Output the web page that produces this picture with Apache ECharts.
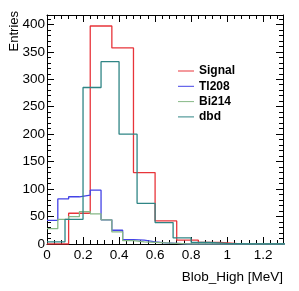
<!DOCTYPE html>
<html>
<head>
<meta charset="utf-8">
<script src="https://cdn.jsdelivr.net/npm/echarts@6/dist/echarts.min.js"></script>
<style>html,body{margin:0;padding:0;background:#fff}#c{width:299px;height:291px}</style>
</head>
<body>
<div id="c"></div>
<script>
// Bin widths (MeV) and bin contents
var signalBinWidth = 0.12;
var signalValues = [0, 56, 397, 357, 130, 42, 7, 3, 0, 0, 0];
var tl208BinWidth = 0.06;
var tl208Values = [43, 82, 86, 89, 98, 44, 25, 8, 7, 4, 2, 1, 0, 0, 0, 0, 0, 0, 0, 0, 0, 0];
var bi214BinWidth = 0.06;
var bi214Values = [28, 45, 50, 59, 55, 44, 22, 6, 4, 3, 2, 1, 0, 0, 0, 0, 0, 0, 0, 0, 0, 0];
var dbdBinWidth = 0.1;
var dbdValues = [4, 45, 285, 332, 200, 74, 39, 11, 3, 1, 0, 0, 0, 0];
var seriesNames = ['Signal', 'Tl208', 'Bi214', 'dbd'];
var xTickLabels = ['0', '0.2', '0.4', '0.6', '0.8', '1', '1.2'];

function stepData(width, vals) {
  var d = [];
  for (var i = 0; i < vals.length; i++) d.push([+(i * width).toFixed(4), vals[i]]);
  d.push([+(vals.length * width).toFixed(4), vals[vals.length - 1]]);
  return d;
}

var colors = ['#e8343a', '#4343e6', '#86b886', '#2f8585'];
var font = 'Liberation Sans, Arial, Helvetica, sans-serif';

var chart = echarts.init(document.getElementById('c'), null, {renderer: 'canvas'});

function xAx(pos, showLabel) {
  return {
    type: 'value', position: pos, min: 0, max: 1.31, interval: 0.2,
    axisLine: {show: true, onZero: false, lineStyle: {color: '#000', width: 1}},
    axisTick: {show: true, inside: true, length: 7, lineStyle: {color: '#000'}},
    minorTick: {show: true, splitNumber: 5, length: 4, lineStyle: {color: '#000'}},
    splitLine: {show: false}, minorSplitLine: {show: false},
    axisLabel: {show: showLabel, showMaxLabel: false, color: '#000', fontSize: 13.5, fontFamily: font, margin: 4,
      formatter: function (v) { var i = Math.round(v / 0.2); return xTickLabels[i] !== undefined ? xTickLabels[i] : ''; }}
  };
}
function yAx(pos, showLabel) {
  return {
    type: 'value', position: pos, min: 0, max: 417, interval: 50,
    axisLine: {show: true, onZero: false, lineStyle: {color: '#000', width: 1}},
    axisTick: {show: true, inside: true, length: 7, lineStyle: {color: '#000'}},
    minorTick: {show: true, splitNumber: 5, length: 4, lineStyle: {color: '#000'}},
    splitLine: {show: false}, minorSplitLine: {show: false},
    axisLabel: {show: showLabel, showMaxLabel: false, color: '#000', fontSize: 13.5, fontFamily: font, margin: 2}
  };
}

var datas = [
  stepData(signalBinWidth, signalValues),
  stepData(tl208BinWidth, tl208Values),
  stepData(bi214BinWidth, bi214Values),
  stepData(dbdBinWidth, dbdValues)
];

chart.setOption({
  animation: false,
  grid: {left: 47, right: 16, top: 15, bottom: 47},
  xAxis: [xAx('bottom', true), xAx('top', false)],
  yAxis: [yAx('left', true), yAx('right', false)],
  legend: {
    orient: 'vertical', left: 173, top: 59, itemWidth: 16, itemHeight: 1, itemGap: 1.3,
    icon: 'rect',
    textStyle: {color: '#000', fontWeight: 'bold', fontSize: 12, fontFamily: font, lineHeight: 14},
    data: seriesNames
  },
  series: seriesNames.map(function (n, i) {
    return {
      name: n, type: 'line', step: 'end', data: datas[i], xAxisIndex: 0, yAxisIndex: 0,
      showSymbol: false, symbol: 'none', color: colors[i], z: 2 + i,
      lineStyle: {color: colors[i], width: 1.3}, clip: true
    };
  }),
  graphic: [
    {type: 'text', right: 16, top: 270, style: {text: 'Blob_High [MeV]', fill: '#000', font: '13.5px ' + font}},
    {type: 'text', x: 14, y: 11, rotation: Math.PI / 2,
      style: {text: 'Entries', fill: '#000', font: '13px ' + font, align: 'right', verticalAlign: 'middle'}}
  ]
});
</script>
</body>
</html>
